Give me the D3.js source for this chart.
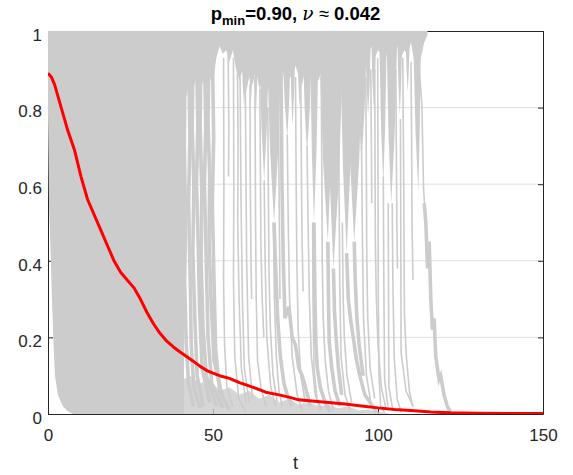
<!DOCTYPE html>
<html>
<head>
<meta charset="utf-8">
<script src="https://cdn.jsdelivr.net/npm/d3@7"></script>
<style>
  body { margin: 0; background: #fff; }
  text { font-family: "Liberation Sans", Arial, sans-serif; }
</style>
</head>
<body>
<div id="chart"></div>
<script>
// mean trajectory (red)
const meanT = [0, 1, 2, 4, 6, 8, 10, 12, 14, 16, 18, 20, 22, 24, 26, 28, 30, 32, 34, 36, 38, 40,
    42, 44, 46, 48, 50, 52, 55, 58, 62, 66, 70, 73, 76, 80, 85, 90, 95, 100, 105, 110, 116, 122, 130, 140, 150];
const meanP = [0.89, 0.88, 0.86, 0.80, 0.74, 0.69, 0.62, 0.56, 0.52, 0.48, 0.44, 0.40, 0.37, 0.35, 0.33, 0.30,
    0.265, 0.235, 0.21, 0.19, 0.175, 0.162, 0.15, 0.138, 0.125, 0.114, 0.107, 0.10, 0.093, 0.082, 0.07, 0.057,
    0.05, 0.044, 0.037, 0.034, 0.03, 0.026, 0.021, 0.016, 0.012, 0.009, 0.005, 0.003, 0.002, 0.001, 0.001];

// solid block of runs, t < 41 (lower-left edge is where the fastest runs hit 0)
const coreT = [0, 0.3, 0.8, 1.2, 1.6, 2.1, 3, 4.5, 6, 7.6, 41.2];
const coreLow = [0.78, 0.55, 0.42, 0.3, 0.2, 0.1, 0.05, 0.02, 0.007, 0, 0];

// runs still stuck near 1: lower edge of the top band
const bandT = d3.range(40, 116);
const bandLow = [0.84, 0.86, 0.83, 0.87, 0.85, 0.88, 0.84, 0.87, 0.85, 0.88, 0.86,
    0.93, 0.96, 0.94, 0.95, 0.92, 0.95, 0.9, 0.87, 0.9, 0.84, 0.88, 0.86, 0.9, 0.85,
    0.87, 0.82, 0.86, 0.9, 0.87, 0.88, 0.9, 0.86, 0.89, 0.87, 0.91, 0.88, 0.86, 0.9,
    0.88, 0.92, 0.89, 0.87, 0.9, 0.91, 0.88, 0.86, 0.9, 0.89, 0.92, 0.88, 0.86, 0.9,
    0.93, 0.9, 0.92, 0.95, 0.94, 0.96, 0.93, 0.95, 0.94, 0.92, 0.95, 0.93, 0.94, 0.96,
    0.93, 0.95, 0.94, 0.97, 0.92, 0.9, 0.93, 0.97, 0.99];

// runs lingering just above 0
const floorT = [38, 41, 43, 46, 49, 52, 55, 58, 61, 64, 67, 70, 73, 76, 79, 82, 85, 88, 91, 94, 97, 100, 104];
const floorHi = [0.1, 0.09, 0.1, 0.08, 0.09, 0.06, 0.07, 0.05, 0.06, 0.04, 0.05, 0.03, 0.04, 0.025, 0.03,
    0.02, 0.025, 0.015, 0.02, 0.01, 0.012, 0.006, 0];

// icicles hanging from the band: [t left, t right, tip t, tip p]
const icicles = [
    [58.6, 60.2, 59.4, 0.80], [60.8, 62.2, 61.5, 0.81], [62.4, 63.6, 63.0, 0.78],
    [64.0, 67.0, 65.5, 0.61], [66.3, 70.8, 68.5, 0.50], [71.0, 73.6, 72.5, 0.72],
    [73.4, 75.0, 74.1, 0.75], [75.6, 77.0, 76.2, 0.80], [77.2, 80.0, 78.5, 0.68],
    [79.4, 82.0, 80.6, 0.50], [82.2, 86.5, 84.8, 0.45], [84.4, 89.5, 86.5, 0.38],
    [88.5, 92.5, 90.5, 0.42], [90.5, 95.5, 92.8, 0.45], [93.5, 96.6, 95.0, 0.66],
    [96.2, 97.8, 97.0, 0.78], [98.0, 99.4, 98.7, 0.80], [100.4, 102.6, 101.6, 0.60],
    [102.6, 105.8, 104.0, 0.55], [105.9, 107.3, 106.6, 0.78], [108.4, 109.6, 109.0, 0.84],
    [110.7, 113.0, 112.2, 0.58]
];

// dense bundles of runs falling to 0
const bundles = [
    [[41.5, 0.9], [41.3, 0.7], [41.7, 0.5], [41.4, 0.35], [41.9, 0.18], [42.6, 0.08], [44, 0.02]],
    [[42.7, 0.9], [43.0, 0.72], [42.6, 0.55], [43.1, 0.35], [43.4, 0.18], [44.2, 0.07], [46, 0.015]],
    [[43.9, 0.9], [43.7, 0.75], [44.2, 0.6], [43.9, 0.42], [44.5, 0.25], [45.2, 0.1], [47, 0.02]],
    [[45.1, 0.9], [45.4, 0.75], [45.0, 0.6], [45.5, 0.45], [45.9, 0.28], [46.7, 0.12], [49, 0.03]],
    [[46.3, 0.9], [46.1, 0.76], [46.6, 0.58], [46.4, 0.4], [47.0, 0.22], [48, 0.1], [51, 0.02]],
    [[47.5, 0.9], [47.8, 0.75], [47.4, 0.6], [48.0, 0.38], [48.5, 0.2], [49.6, 0.08], [53, 0.015]],
    [[48.7, 0.9], [48.5, 0.76], [49.0, 0.62], [48.8, 0.45], [49.4, 0.3], [50.3, 0.14], [53, 0.04]],
    [[49.9, 0.9], [50.2, 0.72], [49.8, 0.55], [50.3, 0.35], [50.8, 0.17], [52.0, 0.06], [55, 0.01]],
    [[68.5, 0.5], [69.0, 0.38], [69.6, 0.25], [70.4, 0.15], [71.5, 0.08], [72.5, 0.05], [74, 0.02]],
    [[70.6, 0.9], [70.9, 0.6], [71.3, 0.4], [71.8, 0.25], [73, 0.28], [74, 0.2], [75, 0.18], [76, 0.12],
        [77, 0.1], [78, 0.07], [79.5, 0.02]],
    [[80.6, 0.5], [80.9, 0.3], [81.2, 0.18], [81.6, 0.12], [82.5, 0.07], [84, 0.03], [85.5, 0.005]],
    [[84.8, 0.45], [85.0, 0.3], [85.2, 0.19], [86, 0.12], [87, 0.06], [88.5, 0.02]],
    [[86.5, 0.38], [86.8, 0.27], [87.3, 0.2], [88, 0.12], [89, 0.05]],
    [[90.5, 0.42], [91, 0.3], [91.8, 0.24], [92.5, 0.2], [93.5, 0.14], [94.5, 0.1], [96, 0.05], [97.6, 0.03], [99.6, 0.003]],
    [[92.8, 0.45], [93.1, 0.35], [93.6, 0.25], [94.3, 0.18], [95.5, 0.1]],
    [[114.0, 0.55], [114.5, 0.5], [115, 0.38], [115.5, 0.45], [116, 0.3], [116.5, 0.22], [117, 0.25],
        [117.5, 0.15], [118, 0.12], [118.5, 0.09], [119, 0.1], [120, 0.05], [121, 0.02], [122, 0.005]]
];

// single runs
const runs = [
    [[53.2, 0.93], [53.3, 0.6], [53.2, 0.35], [53.5, 0.18], [54.2, 0.07], [56, 0.02]],
    [[54.6, 0.94], [54.8, 0.75], [54.7, 0.62]],
    [[56.2, 0.93], [56.3, 0.6], [56.2, 0.35], [56.6, 0.15], [57.8, 0.04], [60, 0.005]],
    [[57.4, 0.9], [57.6, 0.7], [57.5, 0.5], [57.9, 0.3], [58.6, 0.12], [60, 0.03]],
    [[58.2, 0.88], [58.5, 0.55], [58.9, 0.3], [59.5, 0.12], [61, 0.03]],
    [[59.8, 0.85], [60.2, 0.4], [60.8, 0.15], [62, 0.04]],
    [[61.2, 0.86], [61.3, 0.6], [61.5, 0.42], [61.7, 0.3]],
    [[62.7, 0.88], [62.9, 0.5], [63.1, 0.3], [63.5, 0.14], [64.5, 0.07], [66, 0.02]],
    [[64.2, 0.85], [64.4, 0.6], [64.5, 0.45], [64.9, 0.3], [65.4, 0.2]],
    [[65.5, 0.61], [65.8, 0.4], [66.3, 0.2], [67.5, 0.07], [69, 0.02]],
    [[66.6, 0.8], [66.8, 0.55], [67.0, 0.35], [67.4, 0.22], [68.2, 0.1], [69.5, 0.03]],
    [[68.3, 0.5], [68.6, 0.3], [69.2, 0.15], [70, 0.06], [71, 0.02]],
    [[69.8, 0.88], [70.0, 0.6], [70.2, 0.42], [70.3, 0.3]],
    [[72.5, 0.73], [72.8, 0.5], [73.2, 0.3], [74, 0.15], [75.5, 0.05], [77, 0.01]],
    [[75.0, 0.88], [75.2, 0.6], [75.4, 0.4], [75.8, 0.22], [76.6, 0.1], [78, 0.03]],
    [[76.6, 0.88], [76.8, 0.62], [77.0, 0.45], [77.3, 0.32]],
    [[78.5, 0.70], [78.8, 0.5], [79.2, 0.3], [79.8, 0.15], [81, 0.05], [82.5, 0.01]],
    [[80.2, 0.5], [80.3, 0.3], [80.6, 0.12], [81.5, 0.04], [83, 0.01]],
    [[82.8, 0.88], [83.0, 0.6], [83.1, 0.4], [83.4, 0.25], [84, 0.14], [85, 0.06], [86.5, 0.01]],
    [[88.0, 0.88], [88.2, 0.6], [88.4, 0.35], [88.8, 0.15], [90, 0.05], [91.5, 0.01]],
    [[89.2, 0.5], [89.4, 0.32], [89.8, 0.2], [90.6, 0.1], [92, 0.03]],
    [[95.0, 0.70], [95.3, 0.45], [95.6, 0.25], [96.5, 0.1], [98, 0.02]],
    [[96.3, 0.88], [96.5, 0.6], [96.6, 0.4], [96.9, 0.25], [97.6, 0.12], [99, 0.04]],
    [[97.8, 0.9], [98.0, 0.7], [98.1, 0.55]],
    [[99.0, 0.9], [99.1, 0.65], [99.2, 0.45], [99.5, 0.3], [100, 0.18], [101, 0.07], [102.5, 0.01]],
    [[99.9, 0.93], [100, 0.6], [100.1, 0.3], [100.3, 0.1], [100.8, 0.02], [102, 0.003]],
    [[101.6, 0.62], [101.8, 0.3], [102, 0.09], [103, 0.02]],
    [[103.1, 0.55], [103.2, 0.3], [103.3, 0.07], [104.5, 0.01]],
    [[104.3, 0.55], [104.5, 0.35], [104.9, 0.15], [105.8, 0.04], [107, 0.005]],
    [[105.4, 0.9], [105.6, 0.65], [105.7, 0.5], [105.9, 0.38]],
    [[107.5, 0.93], [107.8, 0.6], [108, 0.26], [108.6, 0.15], [109.5, 0.06], [110.5, 0.02]],
    [[106.8, 0.77], [106.9, 0.5], [107, 0.16], [108.5, 0.06], [110.7, 0.02]],
    [[110.0, 0.92], [110.2, 0.7], [110.3, 0.5], [110.6, 0.35]],
    [[112.0, 0.95], [113.3, 0.81], [113.8, 0.59], [114.3, 0.52]]
];

const xTicks = [0, 50, 100, 150],
    yTicks = [0, 0.2, 0.4, 0.6, 0.8, 1];

function render () {
    const width = 573,
        height = 475,
        margin = { top: 31, right: 30, bottom: 61, left: 48 },
        svg = d3.select('#chart').append('svg')
            .attr('width', width)
            .attr('height', height),
        x = d3.scaleLinear().domain([0, 150]).range([margin.left, width - margin.right]),
        y = d3.scaleLinear().domain([0, 1]).range([height - margin.bottom, margin.top]),
        ink = '#262626',
        gray = '#cccccc';

    svg.append('rect').attr('width', width).attr('height', height).attr('fill', '#fff');

    svg.append('clipPath').attr('id', 'plot')
        .append('rect')
        .attr('x', x(0)).attr('y', y(1))
        .attr('width', x(150) - x(0)).attr('height', y(0) - y(1));

    // grid
    svg.append('g').selectAll('line')
        .data(yTicks.filter(d => d > 0 && d < 1))
        .enter().append('line')
        .attr('x1', x(0)).attr('x2', x(150))
        .attr('y1', d => y(d)).attr('y2', d => y(d))
        .attr('stroke', '#dfdfdf')
        .attr('stroke-width', 1);

    // axes
    const xAxis = svg.append('g')
        .attr('transform', `translate(0,${y(0)})`)
        .call(d3.axisBottom(x).tickValues(xTicks).tickSize(-5).tickPadding(15).tickSizeOuter(0));
    svg.append('g')
        .attr('transform', `translate(0,${y(1)})`)
        .call(d3.axisTop(x).tickValues(xTicks).tickSize(-5).tickFormat('').tickSizeOuter(0));
    const yAxis = svg.append('g')
        .attr('transform', `translate(${x(0)},0)`)
        .call(d3.axisLeft(y).tickValues(yTicks).tickSize(-5).tickPadding(6).tickSizeOuter(0)
            .tickFormat(d => d === 0 || d === 1 ? d : d3.format('.1f')(d)));
    svg.append('g')
        .attr('transform', `translate(${x(150)},0)`)
        .call(d3.axisRight(y).tickValues(yTicks).tickSize(-5).tickFormat('').tickSizeOuter(0));

    svg.selectAll('.domain, .tick line').attr('stroke', ink).attr('stroke-width', 1);
    svg.selectAll('.tick text')
        .attr('fill', ink)
        .style('font-size', '17px');
    yAxis.selectAll('.tick text').attr('dy', '0.55em');

    // gray runs
    const runsLayer = svg.append('g').attr('clip-path', 'url(#plot)'),
        line = d3.line().x(d => x(d[0])).y(d => y(d[1]));

    runsLayer.append('path')
        .datum(d3.zip(coreT, coreLow))
        .attr('fill', gray)
        .attr('d', d3.area().x(d => x(d[0])).y0(d => y(d[1])).y1(y(1)));

    runsLayer.append('path')
        .datum(d3.zip(bandT, bandLow))
        .attr('fill', gray)
        .attr('d', d3.area().x(d => x(d[0])).y0(d => y(d[1])).y1(y(1)));

    runsLayer.append('path')
        .datum(d3.zip(floorT, floorHi))
        .attr('fill', gray)
        .attr('fill-opacity', 0.8)
        .attr('d', d3.area().x(d => x(d[0])).y0(y(0)).y1(d => y(d[1])));

    // blunt icicle: shoulders at 60% of the way down
    runsLayer.selectAll('polygon.icicle')
        .data(icicles)
        .enter().append('polygon')
        .attr('class', 'icicle')
        .attr('fill', gray)
        .attr('points', d => {
            const mid = 0.97 - 0.6 * (0.97 - d[3]);
            return [[d[0], 0.97], [d[0] + 0.45 * (d[2] - d[0]), mid], [d[2], d[3]],
                [d[1] - 0.45 * (d[1] - d[2]), mid], [d[1], 0.97]]
                .map(p => [x(p[0]), y(p[1])].join(',')).join(' ');
        });

    runsLayer.selectAll('path.bundle')
        .data(bundles)
        .enter().append('path')
        .attr('class', 'bundle')
        .attr('fill', 'none')
        .attr('stroke', gray)
        .attr('stroke-width', 3.6)
        .attr('d', line);

    runsLayer.selectAll('path.run')
        .data(runs)
        .enter().append('path')
        .attr('class', 'run')
        .attr('fill', 'none')
        .attr('stroke', gray)
        .attr('stroke-width', 1.6)
        .attr('d', line);

    // mean
    runsLayer.append('path')
        .datum(d3.zip(meanT, meanP))
        .attr('fill', 'none')
        .attr('stroke', '#ff0000')
        .attr('stroke-width', 3)
        .attr('stroke-linejoin', 'round')
        .attr('d', line);

    // labels
    svg.append('text')
        .attr('x', (x(0) + x(150)) / 2)
        .attr('y', 469)
        .attr('text-anchor', 'middle')
        .attr('fill', ink)
        .style('font-size', '18px')
        .text('t');

    const title = svg.append('text')
        .attr('x', (x(0) + x(150)) / 2)
        .attr('y', 20)
        .attr('text-anchor', 'middle')
        .attr('fill', '#000')
        .style('font-size', '18.5px')
        .style('font-weight', 'bold');
    title.append('tspan').text('p');
    title.append('tspan').attr('dy', 5).style('font-size', '13px').text('min');
    title.append('tspan').attr('dy', -5).text('=0.90, ');
    title.append('tspan').style('font-weight', 'normal').style('font-style', 'italic')
        .style('font-family', '"DejaVu Serif", serif').text('ν');
    title.append('tspan').style('font-weight', 'normal').text(' ≈ ');
    title.append('tspan').text('0.042');

    xAxis.select('.domain').raise();
}

render();
</script>
</body>
</html>
